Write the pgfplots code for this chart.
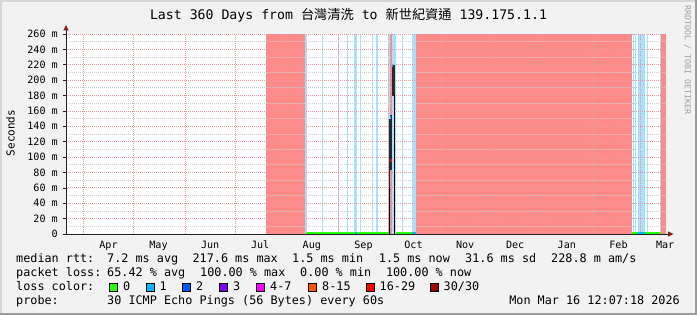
\documentclass[border=0pt]{standalone}
\usepackage{fontspec}
\usepackage{pgfplots}
\pgfplotsset{compat=1.18}
\setmainfont{DejaVu Sans Mono}
\newfontfamily\cjk{Noto Sans CJK TC}
\definecolor{bgc}{HTML}{F2F2F2}
\definecolor{shadea}{HTML}{D6D6D6}
\definecolor{shadeb}{HTML}{9C9C9C}
\definecolor{pinkc}{HTML}{FF8A8A}
\definecolor{lblue}{HTML}{A6E2FF}
\definecolor{mgridc}{HTML}{E59A9A}
\definecolor{gridc}{HTML}{CDCDCD}
\definecolor{axisc}{HTML}{202020}
\definecolor{arrowc}{HTML}{8C1C1C}
\definecolor{l0}{HTML}{26FF00}
\definecolor{l1}{HTML}{00B8FF}
\definecolor{l2}{HTML}{0059FF}
\definecolor{l3}{HTML}{7E00FF}
\definecolor{l4}{HTML}{FF00FF}
\definecolor{l8}{HTML}{FF5500}
\definecolor{l16}{HTML}{FF0000}
\definecolor{l30}{HTML}{A00000}
\definecolor{smoke}{HTML}{2A2A2A}
\newcommand{\tickfont}{\fontsize{10.1}{12}\selectfont}
\newcommand{\legfont}{\fontsize{11.8}{14}\selectfont}
\newcommand{\band}[3]{\addplot[fill=#3, draw=none] coordinates {(#1,0) (#2,0) (#2,260) (#1,260)} --cycle;}
\newcommand{\rect}[5]{\addplot[fill=#5, draw=none] coordinates {(#1,#3) (#2,#3) (#2,#4) (#1,#4)} --cycle;}
\begin{document}
\begin{tikzpicture}[x=1pt,y=1pt]
\useasboundingbox (0,0) rectangle (697,315);
\fill[bgc] (0,0) rectangle (697,315);
\fill[shadea] (0,313) rectangle (697,315);
\fill[shadea] (0,0) rectangle (2,315);
\fill[shadeb] (695,0) rectangle (697,315);
\fill[shadeb] (0,0) rectangle (697,2);
\begin{axis}[
  at={(66pt,81pt)}, anchor=south west,
  width=600pt, height=200pt, scale only axis,
  xmin=0, xmax=360, ymin=0, ymax=260,
  axis background/.style={fill=white},
  axis on top,
  axis lines*=left,
  axis line style={draw=axisc, line width=0.8pt},
  xtick={10.5,40.5,71.5,101.5,132.5,163.5,193.5,224.5,254.5,285.5,316.5,344.5},
  xticklabels={Apr,May,Jun,Jul,Aug,Sep,Oct,Nov,Dec,Jan,Feb,Mar},
  ytick={0,20,...,260},
  yticklabels={0,20 m,40 m,60 m,80 m,100 m,120 m,140 m,160 m,180 m,200 m,220 m,240 m,260 m},
  minor ytick={10,30,...,250},
  grid=both,
  major grid style={draw=mgridc, dash pattern=on 1pt off 1pt, line width=0.7pt},
  minor grid style={draw=gridc, dash pattern=on 1pt off 1pt, line width=0.7pt},
  tick align=outside,
  major tick length=3pt, minor tick length=0pt,
  xtick style={draw=none},
  ytick style={draw=axisc, line width=0.6pt},
  xticklabel style={font=\tickfont, anchor=base, inner sep=0pt, xshift=25pt, yshift=-11.7pt},
  yticklabel style={font=\tickfont, anchor=east, inner sep=0pt, xshift=-5pt},
]
% 100% loss (pink) and partial loss (light blue) columns, x in days since start
\band{120.0}{143.6}{pinkc}
\band{143.6}{144.4}{lblue}
\band{153.6}{154.2}{lblue}
\band{163.2}{163.8}{lblue}
\band{168.6}{169.2}{lblue}
\band{172.8}{174.6}{lblue}
\band{176.4}{177.0}{lblue}
\band{183.6}{184.2}{lblue}
\band{186.0}{187.2}{lblue}
\band{193.4}{194.4}{lblue}
\band{194.4}{195.6}{pinkc}
\band{195.6}{198.0}{lblue}
\band{201.6}{202.2}{lblue}
\band{207.6}{210.0}{lblue}
\band{210.0}{339.6}{pinkc}
\band{340.2}{340.8}{lblue}
\band{341.4}{342.0}{lblue}
\band{343.2}{347.4}{lblue}
\band{348.6}{349.2}{lblue}
\band{356.4}{357.0}{lblue}
\band{357.0}{360.0}{pinkc}
\end{axis}
\begin{axis}[
  at={(66pt,81pt)}, anchor=south west,
  width=600pt, height=200pt, scale only axis,
  xmin=0, xmax=360, ymin=0, ymax=260,
  hide axis,
]
% median rtt line (loss 0 = green, loss 1 = blue)
\rect{144.0}{193.8}{0.6}{3.2}{l0}
\rect{198.0}{210.0}{0.6}{3.2}{l0}
\rect{339.6}{357.0}{0.6}{3.2}{l0}
\rect{173.4}{174.6}{0.6}{3.2}{l1}
\rect{207.6}{210.0}{0.6}{3.2}{l1}
\rect{343.2}{347.4}{0.6}{3.2}{l1}
% smoke spikes
\rect{193.5}{194.2}{0}{64}{black}
\rect{194.0}{194.5}{60}{150}{smoke}
\rect{194.2}{195.5}{83}{155}{smoke}
\rect{194.5}{195.3}{93}{97}{l16}
\rect{195.8}{197.2}{180}{220}{smoke}
\rect{196.9}{197.4}{0}{182}{black}
\rect{194.2}{194.8}{150}{154}{l1}
\rect{195.8}{196.4}{217}{221}{l1}
\end{axis}
% axis extensions and arrows
\draw[axisc, line width=0.8pt] (666,81) -- (668,81);
\fill[arrowc] (668,78.3) -- (673.5,81) -- (668,83.7) -- cycle;
\draw[axisc, line width=0.8pt] (66,281) -- (66,285);
\fill[arrowc] (63.3,284.5) -- (66,290) -- (68.7,284.5) -- cycle;
% title
\node[anchor=base, inner sep=0pt, font=\fontsize{13.2}{15}\selectfont] at (348.5,295.7)
  {Last 360 Days from {\cjk 台灣清洗} to {\cjk 新世紀資通} 139.175.1.1};
\node[rotate=90, inner sep=0pt, font=\fontsize{11}{13}\selectfont] at (10.5,182) {Seconds};
\node[rotate=-90, inner sep=0pt, text=black!38, font=\fontsize{8.3}{10}\selectfont] at (687.5,255) {RRDTOOL / TOBI OETIKER};
% legend
\begin{scope}[every node/.style={anchor=base west, inner sep=0pt, font=\legfont}]
\node at (16,52) {median rtt:};
\node at (107,52) {7.2 ms avg};
\node at (192.4,52) {217.6 ms max};
\node at (292,52) {1.5 ms min};
\node at (378.7,52) {1.5 ms now};
\node at (465,52) {31.6 ms sd};
\node at (551,52) {228.8 m am/s};
\node at (16,38) {packet loss:};
\node at (107,38) {65.42 \% avg};
\node at (200,38) {100.00 \% max};
\node at (300,38) {0.00 \% min};
\node at (385.8,38) {100.00 \% now};
\node at (16,24) {loss color:};
\node at (123,24) {0};
\node at (159.5,24) {1};
\node at (196,24) {2};
\node at (233,24) {3};
\node at (270,24) {4-7};
\node at (322,24) {8-15};
\node at (379.5,24) {16-29};
\node at (443.5,24) {30/30};
\node at (16,10) {probe:};
\node at (107,10) {30 ICMP Echo Pings (56 Bytes) every 60s};
\node[anchor=base east] at (680,10) {Mon Mar 16 12:07:18 2026};
\end{scope}
\begin{scope}[draw=black, line width=0.6pt]
\filldraw[fill=l0]  (109.5,24) rectangle ++(8,8);
\filldraw[fill=l1]  (146,24) rectangle ++(8,8);
\filldraw[fill=l2]  (182.5,24) rectangle ++(8,8);
\filldraw[fill=l3]  (219.5,24) rectangle ++(8,8);
\filldraw[fill=l4]  (256.5,24) rectangle ++(8,8);
\filldraw[fill=l8]  (308.5,24) rectangle ++(8,8);
\filldraw[fill=l16] (366,24) rectangle ++(8,8);
\filldraw[fill=l30] (430,24) rectangle ++(8,8);
\end{scope}
\end{tikzpicture}
\end{document}
